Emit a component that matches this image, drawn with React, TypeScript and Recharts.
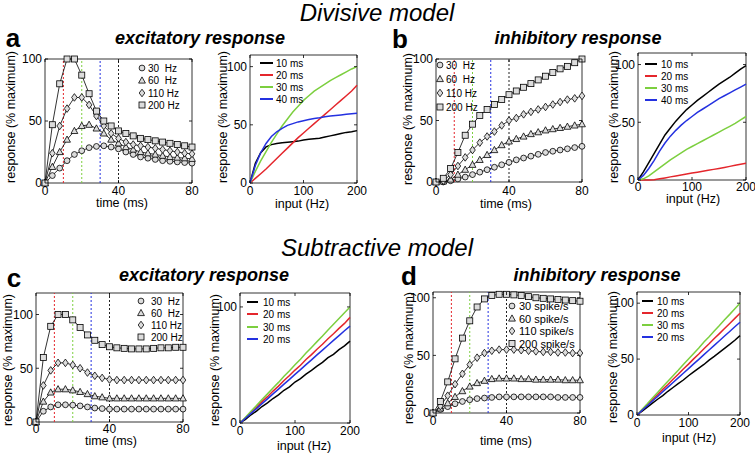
import React from "react";
import { LineChart, Line, XAxis, YAxis, ReferenceLine, ReferenceArea } from "recharts";

const FONT = "'Liberation Sans', Arial, Helvetica, sans-serif";

// time axis (ms) for the marker panels, input axis (Hz) for the line panels
const T = [0, 4, 8, 12, 16, 20, 24, 28, 32, 36, 40, 44, 48, 52, 56, 60, 64, 68, 72, 76, 80];
const HZ = [0, 10, 20, 30, 40, 50, 60, 70, 80, 90, 100, 110, 120, 130, 140, 150, 160, 170, 180, 190, 200];

// a: divisive, excitatory
const aExc30 = [0, 6, 12, 18, 23, 26, 28.5, 29.5, 30, 29, 27.5, 25, 23, 21, 20, 19, 18, 17.5, 17, 16.5, 16];
const aExc60 = [0, 13, 25, 35, 42, 46, 47, 44, 40, 35, 32, 29, 27, 25, 24, 23, 22, 21, 20.5, 20, 19.5];
const aExc110 = [0, 24, 46, 60, 69, 69, 63, 54, 46, 40, 36, 33, 31, 30, 29, 28, 27, 26, 25, 24, 23.5];
const aExc200 = [0, 47, 80, 100, 100, 87, 72, 58, 50, 46, 42, 40, 38, 36, 35, 34, 33, 32, 31, 30, 29];
const aIn10 = [0, 17, 26, 31, 33, 34, 34.5, 35, 35.5, 36, 37, 37.5, 38, 38.5, 39.5, 40.5, 41.5, 42.5, 43.5, 44, 45];
const aIn20 = [0, 4, 8, 12, 16.5, 21, 25.5, 30, 34.5, 39, 43, 47, 51, 55, 59, 63, 67, 71, 75, 79, 84];
const aIn30 = [0, 10, 19, 27, 35, 42, 49, 55, 61, 66, 71, 75, 79, 82, 85, 88, 90.5, 93, 95.5, 98, 100];
const aIn40 = [0, 15, 26, 34, 40, 44, 47, 49.5, 51, 52.5, 53.5, 54.5, 55.5, 56, 57, 57.5, 58, 58.5, 59, 59.5, 60];

// b: divisive, inhibitory
const bInh30 = [0, 0, 1, 2.5, 4, 6, 8, 10, 12, 14, 16, 18, 19.5, 21, 22.5, 24, 25, 26, 27, 28, 29];
const bInh60 = [0, 0.5, 2, 6, 10, 14, 18, 22, 26, 30, 33, 35, 37, 39, 40.5, 42, 43, 44, 45, 46, 47];
const bInh110 = [0, 1, 6, 13, 20, 26, 32, 37, 41, 46, 50, 52, 55, 57, 59, 61, 63, 65, 67, 68, 70];
const bInh200 = [0, 3, 11, 24, 38, 47, 54, 59, 63, 67, 71, 74, 77, 80, 83, 86, 89, 92, 94, 97, 100];
const bIn10 = [0, 7, 15, 23, 31, 39, 45, 51, 56, 61, 65, 69, 72.5, 76, 79.5, 83, 86, 89, 92.5, 96, 99];
const bIn20 = [0, 0, 0, 0.3, 1, 1.8, 2.7, 3.5, 4.3, 5.1, 6, 6.8, 7.6, 8.4, 9.2, 10, 10.9, 11.8, 12.7, 13.6, 14.5];
const bIn30 = [0, 1, 3.5, 7, 10.5, 14, 17.5, 20.5, 23.5, 26.5, 29, 31.5, 34, 36.5, 39, 41.5, 44, 46.5, 49, 52, 55];
const bIn40 = [0, 4, 10, 17, 25, 32, 38, 43, 47.5, 51.5, 55, 58.5, 61.5, 64.5, 67.5, 70.5, 73, 75.5, 78, 80.5, 83];

// c: subtractive, excitatory
const cExc30 = [0, 10, 14, 16, 16, 15.7, 15, 14, 13, 12.5, 12, 12, 12, 12, 12, 12, 12, 12, 12, 12, 12];
const cExc60 = [0, 19, 27.5, 30.5, 30.5, 29.5, 28, 26, 24, 23, 22, 22, 22, 22, 22, 22, 22, 22, 22, 22, 22];
const cExc110 = [0, 34, 48, 55, 55, 53, 50, 46, 43, 41, 39.5, 39, 39, 39, 39, 39, 39, 39, 39, 39, 39];
const cExc200 = [0, 60, 89, 100, 100, 95, 88, 81, 76, 72, 70, 69, 68.5, 68, 68, 68, 68.5, 69, 69, 69.5, 69.5];
const cIn10 = [0, 3.2, 7.1, 10.3, 14.2, 17.4, 21.1, 24.3, 28.2, 31.1, 35.3, 38.2, 42.1, 45.4, 49, 52.2, 56.3, 59.1, 63.2, 66.4, 70.5];
const cIn20 = [0, 4.5, 9.2, 13.6, 18.4, 22.7, 27.5, 31.8, 36.6, 40.9, 45.6, 49.8, 54.7, 58.9, 63.6, 67.8, 72.6, 76.9, 81.5, 85.8, 91];
const cIn30 = [0, 5, 10.2, 15, 20.3, 25.1, 30.2, 35, 40.3, 45.1, 50.2, 55, 60.3, 65.1, 70.1, 75, 80.2, 85.1, 90.1, 95, 100];
const cIn40 = [0, 4.1, 8.3, 12.4, 16.7, 20.8, 25.1, 29.2, 33.5, 37.6, 41.9, 46, 50.3, 54.4, 58.7, 62.8, 67, 71.2, 75.3, 79.5, 83.5];

// d: subtractive, inhibitory
const dInh30 = [0, 3, 5.5, 8, 10, 11.5, 12.5, 13, 13.5, 14, 14, 14, 14, 14, 14, 14, 14, 13.5, 13.5, 13.5, 13.5];
const dInh60 = [0, 4, 8.5, 14, 19, 23, 26, 28, 29.5, 30, 30, 30, 29.5, 29.5, 29, 29, 29, 29, 28.5, 28.5, 28.5];
const dInh110 = [0, 6, 15, 25, 34, 42, 48, 52, 54, 55, 55, 55, 54.5, 54, 53.5, 53, 53, 52.5, 52.5, 52, 52];
const dInh200 = [0, 10, 27, 47, 65, 80, 92, 99, 102, 103, 103, 102.5, 102, 101, 100, 99.5, 99, 98.5, 98, 97.5, 97];
const dIn10 = [0, 3.4, 7, 10.6, 14.1, 17.3, 21.2, 24.6, 28, 31.3, 35.1, 38.6, 42, 45.2, 49.1, 52.4, 56, 59.6, 63.1, 66.8, 71];
const dIn20 = [0, 4.6, 9.1, 13.8, 18.2, 22.9, 27.3, 32, 36.4, 41.1, 45.5, 50.2, 54.6, 59.3, 63.7, 68.4, 72.8, 77.3, 81.9, 86.4, 91];
const dIn30 = [0, 5.1, 10, 15.2, 20.1, 25.2, 30.1, 35.2, 40, 45.2, 50.1, 55.1, 60, 65.2, 70, 75.1, 80, 85.2, 90, 95.1, 100];
const dIn40 = [0, 4.2, 8.3, 12.5, 16.6, 20.8, 24.9, 29.1, 33.2, 37.4, 41.5, 45.7, 49.8, 54, 58.1, 62.3, 66.4, 70.6, 74.7, 78.9, 83];

const FREQ_LABELS = ["30  Hz", "60  Hz", "110 Hz", "200 Hz"];
const SPIKE_LABELS = ["30 spike/s", "60 spike/s", "110 spike/s", "200 spike/s"];
const WIN_LABELS = ["10 ms", "20 ms", "30 ms", "40 ms"];
const WIN_LABELS_SUB = ["10 ms", "20 ms", "30 ms", "20 ms"];

const RED = "#e4262c";
const GREEN = "#7ccf3f";
const BLUE = "#2431e0";
const GUIDES = [
  { t: 10, color: RED },
  { t: 20, color: GREEN },
  { t: 30, color: BLUE },
  { t: 40, color: "#222" },
];

type Shape = "circle" | "triangle" | "diamond" | "square";
const SHAPES: Shape[] = ["circle", "triangle", "diamond", "square"];
const WIN_COLORS = ["#000", RED, GREEN, BLUE];

function timeRows(s: number[][]) {
  return T.map((t, i) => ({ x: t, s0: s[0][i], s1: s[1][i], s2: s[2][i], s3: s[3][i] }));
}
function hzRows(s: number[][]) {
  return HZ.map((h, i) => ({ x: h, s0: s[0][i], s1: s[1][i], s2: s[2][i], s3: s[3][i] }));
}

function Marker({ shape, cx, cy }: { shape: Shape; cx?: number; cy?: number }) {
  if (cx == null || cy == null) return null;
  const st = { fill: "#dcdcdc", stroke: "#000", strokeWidth: 0.8 };
  if (shape === "circle") return <circle cx={cx} cy={cy} r={2.9} {...st} />;
  if (shape === "square") return <rect x={cx - 3} y={cy - 3} width={6} height={6} {...st} />;
  if (shape === "triangle")
    return <polygon points={`${cx},${cy - 3.6} ${cx - 3.4},${cy + 2.6} ${cx + 3.4},${cy + 2.6}`} {...st} />;
  return <polygon points={`${cx},${cy - 3.8} ${cx + 2.8},${cy} ${cx},${cy + 3.8} ${cx - 2.8},${cy}`} {...st} />;
}

type Box = { x: number; y: number; w: number; h: number };

const PAD_L = 34, PAD_T = 6, PAD_R = 16, PAD_B = 24;

function Panel({
  box,
  data,
  xDomain,
  yDomain,
  xTicks,
  yTicks,
  tickGap,
  markers,
}: {
  box: Box;
  data: Record<string, number>[];
  xDomain: [number, number];
  yDomain: [number, number];
  xTicks: number[];
  yTicks: number[];
  tickGap: number;
  markers: boolean;
}) {
  const tk = { stroke: "#000", strokeWidth: 0.8 };
  // matlab-style ticks: pointing inward, mirrored on the opposite side
  const xTick = (p: any) => {
    const y0 = p.y - tickGap;
    return (
      <g>
        <line x1={p.x} x2={p.x} y1={y0} y2={y0 - 3} {...tk} />
        <line x1={p.x} x2={p.x} y1={PAD_T} y2={PAD_T + 3} {...tk} />
        <text x={p.x} y={p.y} dy="0.71em" textAnchor="middle" fontSize={12} fontFamily={FONT}>
          {p.payload.value}
        </text>
      </g>
    );
  };
  const yTick = (p: any) => {
    const x0 = p.x + 3;
    return (
      <g>
        <line x1={x0} x2={x0 + 3} y1={p.y} y2={p.y} {...tk} />
        <line x1={x0 + box.w} x2={x0 + box.w - 3} y1={p.y} y2={p.y} {...tk} />
        <text x={p.x} y={p.y} dy="0.355em" textAnchor="end" fontSize={12} fontFamily={FONT}>
          {p.payload.value}
        </text>
      </g>
    );
  };
  return (
    <div style={{ position: "absolute", left: box.x - PAD_L, top: box.y - PAD_T }}>
      <LineChart
        width={box.w + PAD_L + PAD_R}
        height={box.h + PAD_T + PAD_B}
        data={data}
        margin={{ top: PAD_T, right: PAD_R, bottom: 0, left: 0 }}
      >
        <XAxis
          dataKey="x"
          type="number"
          domain={xDomain}
          ticks={xTicks}
          interval={0}
          height={PAD_B}
          axisLine={false}
          tickLine={false}
          tickSize={0}
          tickMargin={tickGap}
          tick={xTick}
        />
        <YAxis
          type="number"
          domain={yDomain}
          ticks={yTicks}
          interval={0}
          width={PAD_L}
          axisLine={false}
          tickLine={false}
          tickSize={0}
          tickMargin={3}
          tick={yTick}
        />
        {markers &&
          GUIDES.map((g) => (
            <ReferenceLine key={g.t} x={g.t} stroke={g.color} strokeDasharray="2 2" strokeWidth={1} />
          ))}
        <ReferenceArea
          x1={xDomain[0]}
          x2={xDomain[1]}
          y1={yDomain[0]}
          y2={yDomain[1]}
          fill="none"
          fillOpacity={0}
          stroke="#000"
          strokeWidth={0.8}
        />
        {[0, 1, 2, 3].map((k) => (
          <Line
            key={k}
            dataKey={`s${k}`}
            type="linear"
            stroke={markers ? "#000" : WIN_COLORS[k]}
            strokeWidth={markers ? 0.8 : 1.5}
            isAnimationActive={false}
            activeDot={false}
            dot={
              markers
                ? (p: any) => <Marker key={`${k}-${p.index}`} shape={SHAPES[k]} cx={p.cx} cy={p.cy} />
                : false
            }
          />
        ))}
      </LineChart>
    </div>
  );
}

function MarkerLegend({ x, tx, ys, labels, size = 10 }: { x: number; tx: number; ys: number[]; labels: string[]; size?: number }) {
  return (
    <g>
      {labels.map((l, i) => (
        <g key={l}>
          <Marker shape={SHAPES[i]} cx={x} cy={ys[i]} />
          <text x={tx} y={ys[i]} fontSize={size} dominantBaseline="central" style={{ whiteSpace: "pre" }}>
            {l}
          </text>
        </g>
      ))}
    </g>
  );
}

function LineLegend({ x1, x2, tx, ys, labels }: { x1: number; x2: number; tx: number; ys: number[]; labels: string[] }) {
  return (
    <g>
      {labels.map((l, i) => (
        <g key={i}>
          <line x1={x1} x2={x2} y1={ys[i]} y2={ys[i]} stroke={WIN_COLORS[i]} strokeWidth={2} />
          <text x={tx} y={ys[i]} fontSize={10} dominantBaseline="central">
            {l}
          </text>
        </g>
      ))}
    </g>
  );
}

function AxisLabels({ xl, yl, xText }: { xl: [number, number]; yl: [number, number]; xText: string }) {
  return (
    <g fontSize={12.5}>
      <text x={xl[0]} y={xl[1]} textAnchor="middle" dominantBaseline="central">
        {xText}
      </text>
      <text
        x={yl[0]}
        y={yl[1]}
        textAnchor="middle"
        dominantBaseline="central"
        transform={`rotate(-90 ${yl[0]} ${yl[1]})`}
      >
        response (% maximum)
      </text>
    </g>
  );
}

export default function App() {
  return (
    <div
      style={{
        position: "absolute",
        left: 0,
        top: 0,
        width: 755,
        height: 454,
        background: "#fff",
        overflow: "hidden",
        fontFamily: FONT,
      }}
    >
      <Panel box={{ x: 45, y: 59, w: 147, h: 124 }} data={timeRows([aExc30, aExc60, aExc110, aExc200])}
        xDomain={[0, 80]} yDomain={[0, 100]} xTicks={[0, 40, 80]} yTicks={[0, 50, 100]} tickGap={3} markers />
      <Panel box={{ x: 250, y: 55, w: 107, h: 128 }} data={hzRows([aIn10, aIn20, aIn30, aIn40])}
        xDomain={[0, 200]} yDomain={[0, 110]} xTicks={[0, 100, 200]} yTicks={[0, 50, 100]} tickGap={3} markers={false} />
      <Panel box={{ x: 436, y: 59, w: 146, h: 123 }} data={timeRows([bInh30, bInh60, bInh110, bInh200])}
        xDomain={[0, 80]} yDomain={[0, 100]} xTicks={[0, 40, 80]} yTicks={[0, 50, 100]} tickGap={4} markers />
      <Panel box={{ x: 638, y: 53, w: 108, h: 127 }} data={hzRows([bIn10, bIn20, bIn30, bIn40])}
        xDomain={[0, 200]} yDomain={[0, 110]} xTicks={[0, 100, 200]} yTicks={[0, 50, 100]} tickGap={2} markers={false} />
      <Panel box={{ x: 36, y: 293, w: 147, h: 129 }} data={timeRows([cExc30, cExc60, cExc110, cExc200])}
        xDomain={[0, 80]} yDomain={[0, 120]} xTicks={[0, 40, 80]} yTicks={[0, 50, 100]} tickGap={2} markers />
      <Panel box={{ x: 240, y: 293, w: 110, h: 130 }} data={hzRows([cIn10, cIn20, cIn30, cIn40])}
        xDomain={[0, 200]} yDomain={[0, 112]} xTicks={[0, 100, 200]} yTicks={[0, 100]} tickGap={3} markers={false} />
      <Panel box={{ x: 433, y: 292, w: 147, h: 121 }} data={timeRows([dInh30, dInh60, dInh110, dInh200])}
        xDomain={[0, 80]} yDomain={[0, 105]} xTicks={[0, 40, 80]} yTicks={[0, 50, 100]} tickGap={3} markers />
      <Panel box={{ x: 637, y: 292, w: 103, h: 123 }} data={hzRows([dIn10, dIn20, dIn30, dIn40])}
        xDomain={[0, 200]} yDomain={[0, 110]} xTicks={[0, 100, 200]} yTicks={[0, 50, 100]} tickGap={3} markers={false} />

      <svg width={755} height={454} style={{ position: "absolute", left: 0, top: 0, pointerEvents: "none" }} fontFamily={FONT}>
        <text x={377} y={21} fontSize={24} fontStyle="italic" textAnchor="middle">Divisive model</text>
        <text x={377} y={256} fontSize={24} fontStyle="italic" textAnchor="middle">Subtractive model</text>

        <text x={13} y={47} fontSize={26} fontWeight="bold" textAnchor="middle">a</text>
        <text x={400} y={48} fontSize={26} fontWeight="bold" textAnchor="middle">b</text>
        <text x={14} y={287} fontSize={26} fontWeight="bold" textAnchor="middle">c</text>
        <text x={409} y={285} fontSize={26} fontWeight="bold" textAnchor="middle">d</text>

        <text x={200} y={44} fontSize={18} fontWeight="bold" fontStyle="italic" textAnchor="middle">excitatory response</text>
        <text x={578} y={44} fontSize={18} fontWeight="bold" fontStyle="italic" textAnchor="middle">inhibitory response</text>
        <text x={204} y={281} fontSize={18} fontWeight="bold" fontStyle="italic" textAnchor="middle">excitatory response</text>
        <text x={597} y={281} fontSize={18} fontWeight="bold" fontStyle="italic" textAnchor="middle">inhibitory response</text>

        <AxisLabels xl={[122, 203]} yl={[10.5, 117]} xText="time (ms)" />
        <AxisLabels xl={[302, 204]} yl={[222.5, 117]} xText="input (Hz)" />
        <AxisLabels xl={[506, 204]} yl={[408, 119]} xText="time (ms)" />
        <AxisLabels xl={[693, 199]} yl={[614, 117]} xText="input (Hz)" />
        <AxisLabels xl={[111, 441]} yl={[7.5, 360]} xText="time (ms)" />
        <AxisLabels xl={[304, 446]} yl={[215, 360]} xText="input (Hz)" />
        <AxisLabels xl={[506, 441]} yl={[409, 358]} xText="time (ms)" />
        <AxisLabels xl={[689, 438]} yl={[613, 357]} xText="input (Hz)" />

        <MarkerLegend x={142} tx={148} ys={[68, 80.5, 93, 105]} labels={FREQ_LABELS} />
        <MarkerLegend x={440} tx={446} ys={[65, 79, 93, 107]} labels={FREQ_LABELS} />
        <MarkerLegend x={141} tx={151} ys={[301, 313, 325, 337]} labels={FREQ_LABELS} />
        <MarkerLegend x={512} tx={519} ys={[306, 318.5, 331, 343.5]} labels={SPIKE_LABELS} size={11} />

        <LineLegend x1={260} x2={273} tx={276} ys={[63, 75, 87, 99]} labels={WIN_LABELS} />
        <LineLegend x1={645} x2={657} tx={661} ys={[64, 76, 88, 100]} labels={WIN_LABELS} />
        <LineLegend x1={247} x2={258} tx={263} ys={[302, 314, 327, 339]} labels={WIN_LABELS_SUB} />
        <LineLegend x1={642} x2={653} tx={657} ys={[301, 313, 325, 337]} labels={WIN_LABELS_SUB} />
      </svg>
    </div>
  );
}
